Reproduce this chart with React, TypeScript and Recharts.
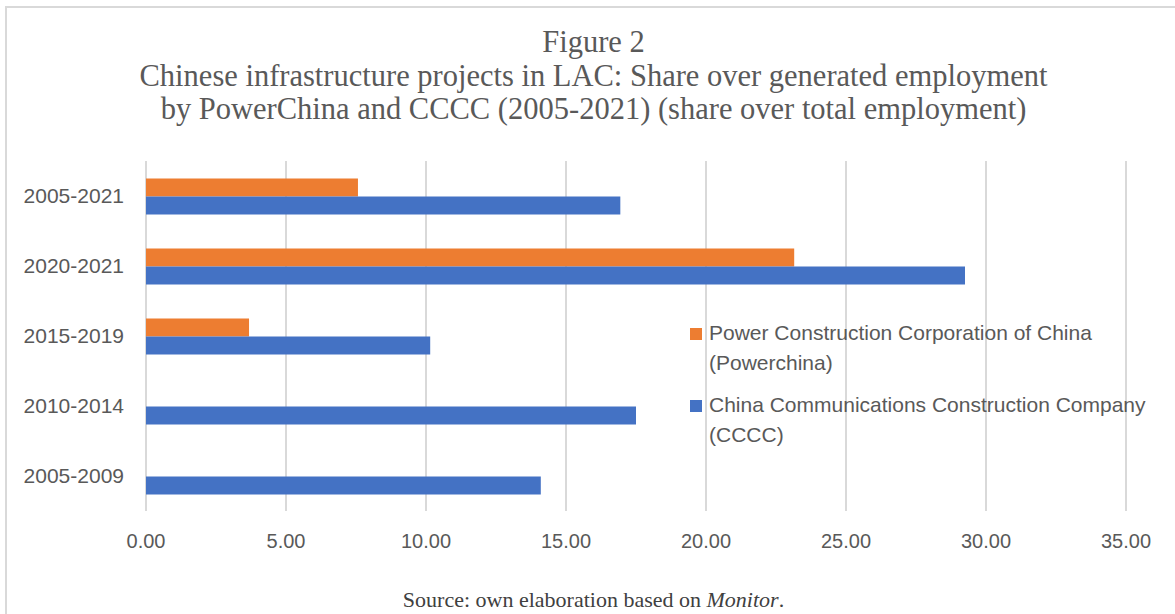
import { BarChart, Bar, XAxis, YAxis, CartesianGrid, Legend } from 'recharts';

const PERIODS = ['2005-2021', '2020-2021', '2015-2019', '2010-2014', '2005-2009'];
const POWERCHINA = [7.57, 23.15, 3.68, 0, 0];
const CCCC = [16.94, 29.25, 10.15, 17.5, 14.1];
const X_TICKS = [0, 5, 10, 15, 20, 25, 30, 35];

const SERIES = [
  { key: 'powerchina', name: 'Power Construction Corporation of China (Powerchina)', color: '#ED7D31' },
  { key: 'cccc', name: 'China Communications Construction Company (CCCC)', color: '#4472C4' },
];

const SANS = "'Liberation Sans', Arial, sans-serif";
const SERIF = "'Liberation Serif', 'Times New Roman', serif";
const GREY = '#595959';

const data = PERIODS.map((period, i) => ({
  period,
  powerchina: POWERCHINA[i],
  cccc: CCCC[i],
}));

const seriesIndex = (name: string) => SERIES.findIndex((s) => s.name === name);

function LegendBox({ payload }: { payload?: Array<{ value: string; color: string }> }) {
  if (!payload) return null;
  // keep series order (powerchina first), like the original
  const items = [...payload].sort((a, b) => seriesIndex(a.value) - seriesIndex(b.value));
  return (
    <div style={{ fontFamily: SANS, fontSize: 21, lineHeight: '30px', color: GREY }}>
      {items.map((entry) => (
        <div key={entry.value} style={{ display: 'flex', alignItems: 'flex-start', marginBottom: 12 }}>
          <span
            style={{
              display: 'inline-block',
              width: 12,
              height: 12,
              marginTop: 10,
              marginRight: 7,
              background: entry.color,
              flex: 'none',
            }}
          />
          <span style={{ width: 445 }}>{entry.value}</span>
        </div>
      ))}
    </div>
  );
}

export default function App() {
  return (
    <div
      style={{
        position: 'absolute',
        left: 0,
        top: 0,
        width: 1175,
        height: 614,
        background: '#fff',
        overflow: 'hidden',
      }}
    >
      {/* chart frame */}
      <div
        style={{
          position: 'absolute',
          left: 5,
          top: 6,
          width: 1200,
          height: 700,
          borderLeft: '2px solid #d9d9d9',
          borderTop: '2px solid #d9d9d9',
        }}
      />
      <div
        style={{
          position: 'absolute',
          left: 0,
          top: 26,
          width: 1187,
          textAlign: 'center',
          fontFamily: SERIF,
          fontSize: 30.5,
          lineHeight: '33.5px',
          color: GREY,
        }}
      >
        <div>Figure 2</div>
        <div>Chinese infrastructure projects in LAC: Share over generated employment</div>
        <div>by PowerChina and CCCC (2005-2021) (share over total employment)</div>
      </div>

      <div style={{ position: 'absolute', left: 0, top: 0 }}>
        <BarChart
          width={1175}
          height={614}
          data={data}
          layout="vertical"
          margin={{ top: 161, right: 49, bottom: 73, left: 0 }}
          barCategoryGap="25%"
          barGap={0}
        >
          <CartesianGrid horizontal={false} stroke="#d9d9d9" strokeWidth={2} />
          <XAxis
            type="number"
            domain={[0, 35]}
            ticks={X_TICKS}
            tickFormatter={(v: number) => v.toFixed(2)}
            axisLine={false}
            tickLine={false}
            tickSize={0}
            tickMargin={23}
            height={30}
            tick={{ fill: GREY, fontSize: 20, fontFamily: SANS }}
          />
          <YAxis
            type="category"
            dataKey="period"
            width={146}
            axisLine={false}
            tickLine={false}
            tickSize={0}
            tickMargin={22}
            tick={{ fill: GREY, fontSize: 21, fontFamily: SANS }}
          />
          <Legend
            layout="vertical"
            align="center"
            verticalAlign="middle"
            content={<LegendBox />}
            wrapperStyle={{ left: 690, top: 318, width: 470 }}
          />
          {SERIES.map((s) => (
            <Bar key={s.key} dataKey={s.key} name={s.name} fill={s.color} isAnimationActive={false} />
          ))}
        </BarChart>
      </div>

      <div
        style={{
          position: 'absolute',
          left: 0,
          top: 588,
          width: 1187,
          textAlign: 'center',
          fontFamily: SERIF,
          fontSize: 22,
          lineHeight: '24px',
          color: '#404040',
        }}
      >
        Source: own elaboration based on <i>Monitor</i>.
      </div>
    </div>
  );
}
